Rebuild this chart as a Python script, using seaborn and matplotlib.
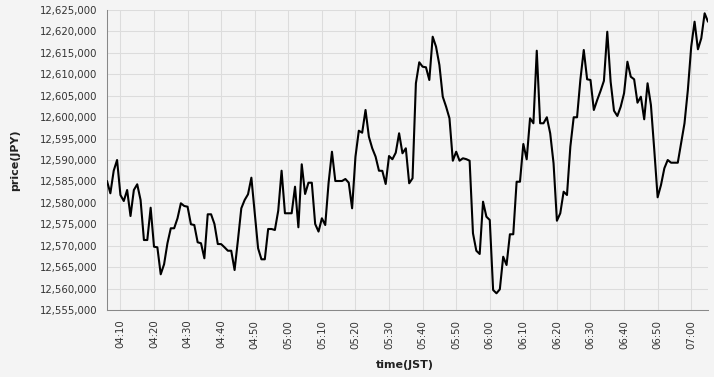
import matplotlib
matplotlib.use("Agg")
import matplotlib.pyplot as plt
import matplotlib.dates as mdates
import matplotlib.ticker as mticker
import seaborn as sns
import pandas as pd

# ---- data (one price per minute, JST) ----
start_time = "2024-01-01 04:06"
prices_a = [12585100, 12582230, 12587500, 12590000, 12581830, 12580430, 12583000, 12576930,
            12583000, 12584330, 12580670, 12571330, 12571330, 12578870, 12569770, 12569630,
            12563330, 12565670, 12570570, 12574070, 12574070, 12576400, 12579900, 12579270,
            12579100, 12575000, 12574830, 12570800, 12570570, 12567070]
prices_b = [12577330, 12577330, 12575070, 12570400, 12570370, 12569630, 12568830, 12568830,
            12564330, 12571330, 12578730, 12580670, 12582000, 12585870, 12577570, 12569400,
            12566830, 12566830, 12573900, 12573900, 12573670, 12578170, 12587500, 12577570,
            12577570, 12577570, 12583770, 12574300, 12589000, 12582070]
prices_c = [12584700, 12584700, 12575070, 12573300, 12576400, 12574830, 12584700, 12591930,
            12585100, 12585100, 12585100, 12585570, 12584700, 12578730, 12590770, 12596830,
            12596370, 12601670, 12595430, 12592730, 12590770, 12587500, 12587470, 12584400,
            12590930, 12590170, 12591700, 12596230, 12591570, 12592730]
prices_d = [12584570, 12585730, 12607900, 12612800, 12611770, 12611630, 12608670, 12618770,
            12616430, 12612170, 12604770, 12602430, 12599730, 12589830, 12591930, 12589830,
            12590400, 12590200, 12589830, 12572900, 12568830, 12568070, 12580270, 12576770,
            12576000, 12559670, 12558900, 12559830, 12567430, 12565500]
prices_e = [12572670, 12572670, 12584930, 12584930, 12593730, 12590170, 12599730, 12598570,
            12615500, 12598570, 12598570, 12599970, 12596230, 12589230, 12575830, 12577570,
            12582600, 12581830, 12593100, 12599970, 12599970, 12608830, 12615670, 12608830,
            12608670, 12601670, 12604000, 12606130, 12608470, 12619930]
prices_f = [12608270, 12601500, 12600270, 12602430, 12605570, 12612930, 12609430, 12608830,
            12603370, 12604770, 12599500, 12607900, 12602830, 12592330, 12581300, 12584170,
            12588070, 12590000, 12589370, 12589370, 12589370, 12593900, 12598570, 12606330,
            12616430, 12622270, 12615830, 12618400, 12624230, 12622270]

prices = prices_a + prices_b + prices_c + prices_d + prices_e + prices_f
times = pd.date_range(start=start_time, periods=len(prices), freq="1min")
df = pd.DataFrame({"time(JST)": times, "price(JPY)": prices})

y_min, y_max, y_step = 12555000, 12625000, 5000

# ---- style ----
bg = "#f4f4f4"
sns.set_theme(style="white")
plt.rcParams["font.family"] = ["DejaVu Sans"]

W, H = 714, 377
fig = plt.figure(figsize=(W / 100, H / 100), dpi=100, facecolor=bg)
ax = fig.add_axes([107 / W, 1 - 310 / H, (708 - 107) / W, 300 / H])
ax.set_facecolor(bg)

sns.lineplot(data=df, x="time(JST)", y="price(JPY)", ax=ax, color="black",
             linewidth=1.5, zorder=3)

ax.set_xlim(times[0], times[-1])
ax.set_ylim(y_min, y_max)
ax.yaxis.set_major_locator(mticker.MultipleLocator(y_step))
ax.yaxis.set_major_formatter(mticker.FuncFormatter(lambda v, p: f"{v:,.0f}"))
ax.xaxis.set_major_locator(mdates.MinuteLocator(byminute=range(0, 60, 10)))
ax.xaxis.set_major_formatter(mdates.DateFormatter("%H:%M"))

ax.grid(True, color="#dcdcdc", linewidth=0.75, zorder=0)
ax.set_axisbelow(True)
for s in ["top", "right"]:
    ax.spines[s].set_visible(False)
for s in ["left", "bottom"]:
    ax.spines[s].set_color("#888888")
    ax.spines[s].set_linewidth(0.75)

ax.tick_params(axis="both", which="major", length=5, width=0.75, color="#888888",
               labelsize=7.3, labelcolor="#333333", pad=2)
plt.setp(ax.get_xticklabels(), rotation=90, ha="center", va="top")

ax.set_xlabel("time(JST)", fontsize=8, fontweight="bold", color="#222222")
ax.set_ylabel("price(JPY)", fontsize=8, fontweight="bold", color="#222222")
ax.xaxis.set_label_coords((405 - 107) / 601, -(360 - 310) / 300)
ax.yaxis.set_label_coords(-(107 - 20) / 601, (310 - 160) / 300)

fig.savefig("out.png", dpi=100, facecolor=bg)
